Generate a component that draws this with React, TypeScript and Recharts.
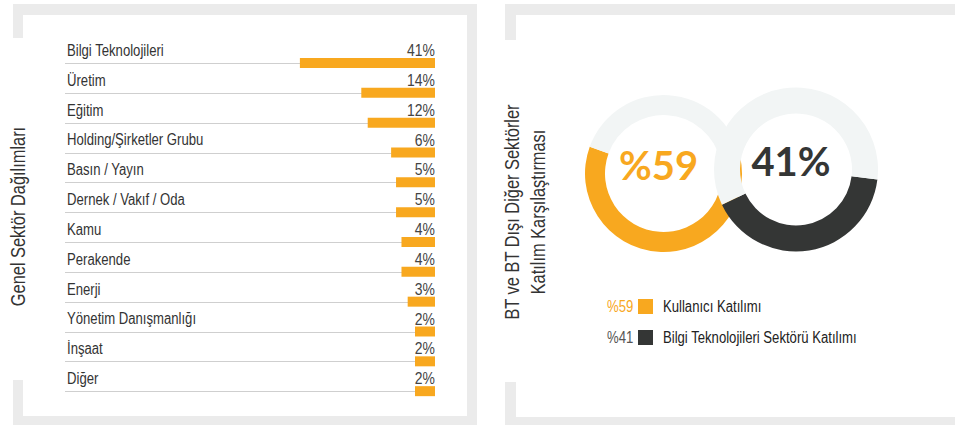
import { BarChart, Bar, XAxis, YAxis, LabelList, PieChart, Pie, Cell } from 'recharts';

const sectors = [
  'Bilgi Teknolojileri', 'Üretim', 'Eğitim', 'Holding/Şirketler Grubu', 'Basın / Yayın',
  'Dernek / Vakıf / Oda', 'Kamu', 'Perakende', 'Enerji', 'Yönetim Danışmanlığı', 'İnşaat', 'Diğer',
];
const sectorShares = [41, 14, 12, 6, 5, 5, 4, 4, 3, 2, 2, 2];

const participationLabels = ['Kullanıcı Katılımı', 'Bilgi Teknolojileri Sektörü Katılımı'];
const participationValues = [59, 41];
const participationCenter = ['%59', '41%'];
const participationLegend = ['%59', '%41'];

const leftTitle = 'Genel Sektör Dağılımları';
const rightTitle = ['BT ve BT Dışı Diğer Sektörler', 'Katılım Karşılaştırması'];

const ORANGE = '#f8a81f';
const DARK = '#343635';
const RING = '#f2f5f5';
const FRAME = '#ebebeb';
const SANS = '"Liberation Sans", Arial, sans-serif';
const BOLD = 'Lato, Inter, "Open Sans", sans-serif';
const NARROW = 'scale(0.82,1)';

// donut geometry (px inside the pie chart box)
const PIE_LEFT = 516;
const PIE_TOP = 15;
const userRing = { cx: 142.5, cy: 153.5, inner: 58.5, outer: 78.5 };
const itRing = { cx: 275, cy: 149.5, inner: 56, outer: 82 };

const sectorData = sectors.map((name, i) => ({ name, share: sectorShares[i] }));
const userPie = [{ v: participationValues[0] }, { v: participationValues[1] }];
const itPie = [{ v: participationValues[1] }, { v: participationValues[0] }];

function SectorTick({ x, y, payload }: any) {
  return (
    <text transform={`translate(${x + 2},${y - 7}) ${NARROW}`} fontSize={16} fill="#333"
      fontFamily={SANS} textAnchor="start">
      {payload.value}
    </text>
  );
}

function ShareLabel({ x, y, width, height, value }: any) {
  const right = Math.max(x, x + width);
  return (
    <text transform={`translate(${right},${y + height / 2 - 7}) ${NARROW}`} fontSize={17} fill="#444"
      fontFamily={SANS} textAnchor="end">
      {value}%
    </text>
  );
}

// row rule drawn as the bar background, so it sits under the bar
function RowLine({ x, y, width, height }: any) {
  const mid = Math.round(y + height / 2) + 0.5;
  return <line x1={x} x2={x + width} y1={mid} y2={mid} stroke="#cfcfcf" strokeWidth={1} />;
}

export default function App() {
  const rings = [userRing, itRing];
  return (
    <div style={{ position: 'absolute', left: 0, top: 0, width: 955, height: 425, background: '#fff', overflow: 'hidden' }}>
      <svg width={955} height={425} style={{ position: 'absolute', left: 0, top: 0 }}>
        {/* left frame */}
        <rect x={13} y={4} width={464} height={421} fill={FRAME} />
        <rect x={23} y={15} width={444} height={401} fill="#fff" />
        <rect x={13} y={38} width={10} height={342} fill="#fff" />
        {/* right frame */}
        <rect x={505} y={4} width={450} height={421} fill={FRAME} />
        <rect x={516} y={15} width={439} height={402} fill="#fff" />
        <rect x={505} y={40} width={11} height={342} fill="#fff" />
        <text transform={`translate(24.5,216.5) rotate(-90) ${NARROW}`} textAnchor="middle" fontSize={20}
          fill="#333" fontFamily={SANS}>{leftTitle}</text>
        {rightTitle.map((t, i) => (
          <text key={t} transform={`translate(${518.5 + i * 26},212) rotate(-90) ${NARROW}`} textAnchor="middle"
            fontSize={20} fill="#333" fontFamily={SANS}>{t}</text>
        ))}
        {participationLabels.map((label, i) => (
          <g key={label}>
            <text transform={`translate(607,${312 + i * 31}) ${NARROW}`} fontSize={16} fontFamily={SANS}
              fill={i === 0 ? ORANGE : '#555'}>{participationLegend[i]}</text>
            <rect x={638} y={299 + i * 31} width={15} height={15} fill={i === 0 ? ORANGE : DARK} />
            <text transform={`translate(663,${312 + i * 31}) ${NARROW}`} fontSize={16} fontFamily={SANS}
              fill="#222">{label}</text>
          </g>
        ))}
      </svg>

      <div style={{ position: 'absolute', left: 0, top: 0 }}>
        <BarChart width={480} height={425} data={sectorData} layout="vertical" barSize={10}
          margin={{ top: 48, right: 45, bottom: 19, left: 0 }}>
          <XAxis type="number" scale="sqrt" domain={[0.3, 275]} reversed hide allowDataOverflow />
          <YAxis type="category" dataKey="name" width={65} axisLine={false} tickLine={false}
            tickSize={0} tickMargin={0} interval={0} tick={<SectorTick />} />
          <Bar dataKey="share" fill={ORANGE} background={<RowLine />} isAnimationActive={false}>
            <LabelList dataKey="share" content={<ShareLabel />} />
          </Bar>
        </BarChart>
      </div>

      <div style={{ position: 'absolute', left: PIE_LEFT, top: PIE_TOP }}>
        <PieChart width={439} height={270}>
          <Pie data={userPie} dataKey="v" cx={userRing.cx} cy={userRing.cy} innerRadius={userRing.inner}
            outerRadius={userRing.outer} startAngle={160} endAngle={520} stroke="none" isAnimationActive={false}>
            <Cell fill={ORANGE} />
            <Cell fill={RING} />
          </Pie>
          <Pie data={itPie} dataKey="v" cx={itRing.cx} cy={itRing.cy} innerRadius={itRing.inner}
            outerRadius={itRing.outer} startAngle={-7} endAngle={-367} stroke="none" isAnimationActive={false}>
            <Cell fill={DARK} />
            <Cell fill={RING} />
          </Pie>
        </PieChart>
      </div>

      <svg width={955} height={425} style={{ position: 'absolute', left: 0, top: 0, pointerEvents: 'none' }}>
        {rings.map((r, i) => (
          <text key={i} x={PIE_LEFT + r.cx} y={PIE_TOP + r.cy + 11} textAnchor="middle" fontSize={40}
            fontWeight={700} fill={i === 0 ? ORANGE : DARK} fontFamily={BOLD}>
            {participationCenter[i]}
          </text>
        ))}
      </svg>
    </div>
  );
}
